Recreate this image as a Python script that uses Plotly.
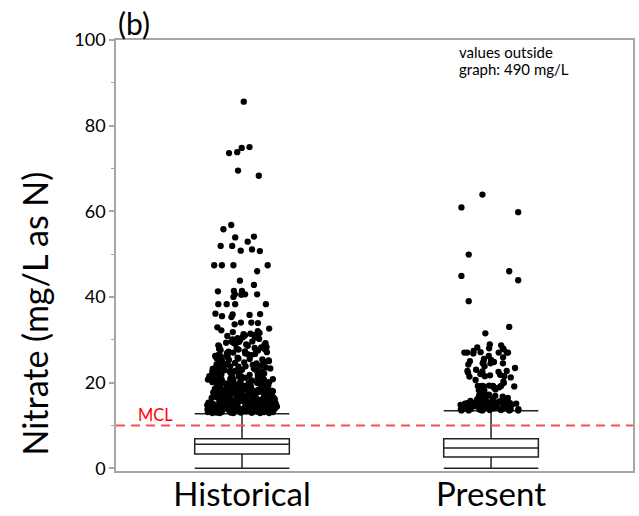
import plotly.graph_objects as go

# ---------------- data ----------------
groups = ["Historical", "Present"]
q1 = [3.3, 2.6]
median = [5.6, 4.7]
q3 = [6.9, 6.9]
lower_whisker = [0.0, 0.0]
upper_whisker = [12.7, 13.4]
MCL = 10

historical_outliers = [
    85.6, 75.0, 74.8, 73.8, 73.6, 69.5, 68.3,
    56.8, 55.8, 54.1, 53.9, 52.9, 51.9, 51.9, 51.1, 50.8, 50.7,
    47.4, 47.4, 47.4, 47.4, 46.0, 43.8, 42.8, 41.4, 41.4, 41.3, 40.6, 40.6, 40.6, 40.5, 40.0,
    38.3, 38.3, 38.3, 38.3, 36.1, 36.0, 35.9, 35.8, 35.5, 35.3, 34.0, 34.0, 33.9, 33.6, 32.9, 32.6, 32.2, 32.0,
    31.8, 31.6, 31.4, 31.3, 31.1, 30.9, 30.8, 30.6, 30.4, 30.2, 30.1, 29.9,
    29.7, 29.5, 29.4, 29.2, 29.0, 28.9, 28.7, 28.6, 28.4, 28.2, 28.1, 27.9,
    27.8, 27.6, 27.5, 27.3, 27.2, 27.0, 26.9, 26.8, 26.6, 26.5, 26.4, 26.2, 26.1, 25.9,
    25.8, 25.7, 25.5, 25.4, 25.3, 25.1, 25.0, 24.9, 24.8, 24.6, 24.5, 24.4, 24.3, 24.1, 24.0,
    23.9, 23.8, 23.7, 23.5, 23.4, 23.3, 23.2, 23.1, 23.0, 22.9, 22.8, 22.7, 22.6, 22.5, 22.4, 22.3,
    22.2, 22.1, 22.0, 21.9, 21.9, 21.8, 21.7, 21.6, 21.5, 21.5, 21.4, 21.3, 21.2, 21.1, 21.1, 21.0, 20.9,
    20.9, 20.8, 20.7, 20.7, 20.6, 20.5, 20.5, 20.4, 20.3, 20.3, 20.2, 20.1, 20.1, 20.0, 20.0,
    31.0, 29.3, 28.0, 27.1, 26.3, 25.6, 24.7, 23.6, 22.9, 21.4,
    30.5, 29.6, 28.8, 28.3, 27.7, 26.7, 26.0, 25.2, 24.2, 23.8, 23.3, 22.6, 22.1, 21.7, 21.2, 20.6,
    19.9, 19.8, 19.8, 19.7, 19.6, 19.6, 19.5, 19.4, 19.4, 19.3, 19.2, 19.2, 19.1, 19.0, 19.0,
    18.9, 18.9, 18.8, 18.7, 18.7, 18.6, 18.5, 18.5, 18.4, 18.3, 18.3, 18.2, 18.1, 18.1, 18.0, 18.0,
    17.9, 17.9, 17.8, 17.8, 17.7, 17.6, 17.6, 17.5, 17.5, 17.4, 17.3, 17.3, 17.2, 17.2, 17.1, 17.0, 17.0, 17.0,
    16.9, 16.9, 16.8, 16.8, 16.7, 16.7, 16.6, 16.6, 16.5, 16.5, 16.4, 16.4, 16.3, 16.3, 16.2, 16.2, 16.1, 16.1, 16.0, 16.0, 16.0,
    15.9, 15.9, 15.8, 15.8, 15.8, 15.7, 15.7, 15.6, 15.6, 15.6, 15.5, 15.5, 15.4, 15.4, 15.4, 15.3, 15.3, 15.2, 15.2, 15.2,
    15.1, 15.1, 15.0, 15.0, 15.0,
    14.9, 14.9, 14.9, 14.8, 14.8, 14.8, 14.7, 14.7, 14.7, 14.6, 14.6, 14.6, 14.5, 14.5, 14.5,
    14.4, 14.4, 14.4, 14.3, 14.3, 14.3, 14.2, 14.2, 14.2, 14.1, 14.1, 14.1, 14.0, 14.0, 14.0,
    13.9, 13.9, 13.9, 13.9, 13.8, 13.8, 13.8, 13.8, 13.7, 13.7, 13.7, 13.7, 13.6, 13.6, 13.6, 13.6,
    13.5, 13.5, 13.5, 13.5, 13.4, 13.4, 13.4, 13.4, 13.3, 13.3, 13.3, 13.3, 13.2, 13.2, 13.2, 13.2,
    13.1, 13.1, 13.1, 13.1, 13.0, 13.0, 13.0, 13.0, 12.9, 12.9, 12.9, 12.9,
    19.5, 19.1, 18.6, 18.2, 17.8, 17.4, 17.1, 16.8, 16.5, 16.2, 15.9, 15.7, 15.5, 15.3, 15.1,
    14.9, 14.7, 14.5, 14.3, 14.1, 13.9, 13.7, 13.5, 13.3, 13.1, 13.0,
    21.8, 21.3, 20.8, 20.4, 19.9, 19.3, 18.8, 18.4, 17.9, 17.5, 17.2, 16.9, 16.6, 16.3, 16.1,
    15.8, 15.6, 15.3, 15.0, 14.8, 14.6, 14.4, 14.2, 14.0, 13.8, 13.6, 13.4, 13.2, 13.0, 12.9,
]

present_outliers = [
    63.9, 60.9, 59.8, 49.9, 46.0, 44.9, 43.9, 39.0, 33.0, 31.5, 28.9, 28.7,
    28.2, 28.0, 28.0, 27.8, 27.4, 27.1, 27.0, 27.0, 27.0, 27.0, 27.0, 26.8,
    26.2, 25.9, 25.5, 25.3, 25.0, 24.8, 24.8, 24.5, 24.5, 24.5, 24.2, 23.8,
    23.4, 23.0, 22.7, 22.7, 22.6, 22.5, 22.3, 22.0, 21.8, 21.7, 21.5, 21.5, 21.4, 21.2,
    20.6, 20.2, 19.9,
    19.3, 19.2, 19.2, 19.2, 19.2, 19.1, 19.1, 19.0, 19.0, 18.9, 18.8, 18.6, 18.4, 18.2, 18.2,
    17.8, 17.5, 17.3, 17.2, 17.0, 17.0, 16.9, 16.7, 16.5, 16.4, 16.3, 16.2, 16.1, 16.0, 16.0,
    15.9, 15.8, 15.7, 15.6, 15.5, 15.5, 15.4, 15.3, 15.2, 15.2, 15.1, 15.0, 15.0, 14.9, 14.9,
    14.8, 14.8, 14.7, 14.7, 14.6, 14.6, 14.5, 14.5, 14.4, 14.4, 14.3, 14.3, 14.2, 14.2, 14.1, 14.1,
    14.0, 14.0, 14.0,
    13.9, 13.9, 13.8, 13.8, 13.8, 13.7, 13.7, 13.7, 13.6, 13.6, 13.6, 13.5, 13.5, 13.5, 13.5,
    15.8, 15.6, 15.4, 15.2, 15.0, 14.9, 14.7, 14.5, 14.4, 14.2, 14.1, 13.9, 13.8, 13.7, 13.6,
    13.5, 14.6, 14.8, 15.1, 15.3,
]

y_ticks = [0, 20, 40, 60, 80, 100]
y_title = "Nitrate (mg/L as N)"
note_lines = ["values outside", "graph: 490 mg/L"]
panel_label = "(b)"

# ---------------- figure ----------------
FONT = "Lato"
AXIS_GREY = "#a6a6a6"
BOX_W = 0.38
# jitter is drawn band by band so sparse upper outliers spread as widely as dense ones
JITTER_BANDS = [(0, 20), (20, 32), (32, 45), (45, 1000)]

fig = go.Figure()

fig.add_trace(go.Box(
    x=groups, q1=q1, median=median, q3=q3,
    lowerfence=lower_whisker, upperfence=upper_whisker,
    width=BOX_W, whiskerwidth=1, boxpoints=False,
    fillcolor="white", line=dict(color="#222222", width=1.5),
    hoverinfo="skip",
))

for g, vals in zip(groups, [historical_outliers, present_outliers]):
    for lo, hi in JITTER_BANDS:
        band = [v for v in vals if lo <= v < hi]
        if not band:
            continue
        fig.add_trace(go.Box(
            x=[g] * len(band), y=band,
            boxpoints="all", jitter=0.74, pointpos=0, width=BOX_W,
            fillcolor="rgba(0,0,0,0)", line=dict(width=0, color="rgba(0,0,0,0)"),
            marker=dict(color="black", size=6.3),
            hoverinfo="skip",
        ))

fig.add_shape(type="line", xref="paper", x0=0, x1=1, yref="y", y0=MCL, y1=MCL,
              line=dict(color="#ff4d4d", width=2, dash="9px,6px"), layer="above")

annotations = [
    dict(text="MCL", xref="paper", x=0.039, xanchor="left", yref="y", y=MCL,
         yanchor="bottom", yshift=-2, showarrow=False,
         font=dict(family=FONT, size=16.5, color="#ff0000")),
    dict(text=note_lines[0], xref="paper", x=0.66, xanchor="left", yref="paper", y=0.971,
         yanchor="middle", showarrow=False, font=dict(family=FONT, size=15, color="black")),
    dict(text=note_lines[1], xref="paper", x=0.66, xanchor="left", yref="paper", y=0.933,
         yanchor="middle", showarrow=False, font=dict(family=FONT, size=15, color="black")),
    dict(text=panel_label, xref="paper", x=0.0, xanchor="left", yref="paper", y=1.04,
         yanchor="middle", showarrow=False, font=dict(family=FONT, size=30, color="black")),
    dict(text=y_title, xref="paper", x=-0.157, xanchor="center", yref="paper", y=0.365,
         yanchor="middle", textangle=-90, showarrow=False,
         font=dict(family=FONT, size=34, color="black")),
]

fig.update_layout(
    width=639, height=516,
    margin=dict(l=116, r=6, t=40, b=45, autoexpand=False),
    paper_bgcolor="white", plot_bgcolor="white",
    showlegend=False, boxmode="overlay",
    font=dict(family=FONT, color="black"),
    annotations=annotations,
    xaxis=dict(type="category", categoryorder="array", categoryarray=groups,
               range=[-0.506, 1.570], showgrid=False, zeroline=False, automargin=False,
               showline=True, mirror=True, linecolor=AXIS_GREY, linewidth=1.5,
               ticks="", ticklabelstandoff=-6,
               tickfont=dict(family=FONT, size=33, color="black")),
    yaxis=dict(range=[-0.65, 100], tickmode="array", tickvals=y_ticks, automargin=False,
               showgrid=False, zeroline=False,
               showline=True, mirror=True, linecolor=AXIS_GREY, linewidth=1.5,
               ticks="outside", ticklen=5, tickwidth=1.5, tickcolor=AXIS_GREY,
               minor=dict(dtick=10, tick0=0, ticks="outside", ticklen=3, tickwidth=1.2,
                          tickcolor=AXIS_GREY, showgrid=False),
               tickfont=dict(family=FONT, size=18, color="black")),
)

fig.write_html("out.html")
